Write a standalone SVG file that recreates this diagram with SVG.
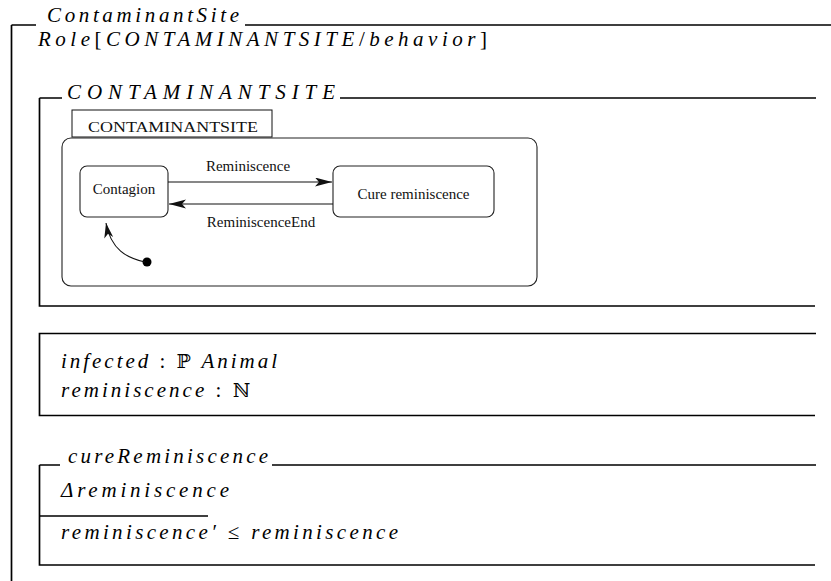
<svg xmlns="http://www.w3.org/2000/svg" width="831" height="581" viewBox="0 0 831 581">
  <defs>
    <style>
      .rule { fill: none; stroke: #000; stroke-width: 1.7; }
      .math { font-family: "Liberation Serif", "Times New Roman", serif; font-size: 21px; font-style: italic; fill: #000; }
      .up { font-style: normal; }
      .ds { font-family: "DejaVu Serif", serif; font-style: normal; font-size: 19px; }
      .label { font-family: "Liberation Serif", "Times New Roman", serif; font-size: 15px; fill: #111; }
      .state { fill: #fff; stroke: #222; stroke-width: 1.1; }
      .edge { fill: none; stroke: #111; stroke-width: 1.1; }
    </style>
    <marker id="head" markerUnits="userSpaceOnUse" markerWidth="18" markerHeight="10" refX="17" refY="4.5" orient="auto">
      <path d="M0,0 L17,4.5 L0,9 L4,4.5 z" fill="#111"/>
    </marker>
    <marker id="head-init" markerUnits="userSpaceOnUse" markerWidth="16" markerHeight="10" refX="15" refY="4.5" orient="auto">
      <path d="M0,0 L15,4.5 L0,9 L4,4.5 z" fill="#111"/>
    </marker>
  </defs>

  <!-- Outer schema: ContaminantSite -->
  <g id="schema-contaminantsite">
    <path class="rule" d="M11.5,25 H36 M245,25 H831 M11.5,25 V581"/>
    <text class="math" x="47" y="22" textLength="192" lengthAdjust="spacing">ContaminantSite</text>
    <text class="math" x="38" y="46" textLength="449" lengthAdjust="spacing">Role<tspan class="up">[</tspan>CONTAMINANTSITE<tspan class="up">/</tspan>behavior<tspan class="up">]</tspan></text>
  </g>

  <!-- Nested schema holding the statechart -->
  <g id="schema-behavior">
    <path class="rule" d="M39.5,98 H62 M340,98 H816 M39.5,98 V306 H815"/>
    <text class="math" x="67" y="99" textLength="268" lengthAdjust="spacing">CONTAMINANTSITE</text>
  </g>

  <!-- Statechart -->
  <g id="statechart">
    <rect x="72" y="110" width="200" height="27" fill="#fff" stroke="#111" stroke-width="1"/>
    <text class="label" x="88" y="132" font-size="17" textLength="170" lengthAdjust="spacingAndGlyphs">CONTAMINANTSITE</text>
    <rect x="62" y="138" width="475" height="148" rx="9" fill="none" stroke="#222" stroke-width="1.1"/>
  </g>

  <g id="state-contagion">
    <rect class="state" x="80" y="166" width="88" height="51" rx="7"/>
    <text class="label" x="124" y="194" text-anchor="middle">Contagion</text>
  </g>

  <g id="state-cure">
    <rect class="state" x="333" y="166" width="161" height="51" rx="7"/>
    <text class="label" x="413.5" y="199" text-anchor="middle">Cure reminiscence</text>
  </g>

  <g id="initial">
    <circle cx="147" cy="262" r="4.5" fill="#000"/>
  </g>

  <g id="connectors">
    <path class="edge" d="M168,182 H332" marker-end="url(#head)"/>
    <text class="label" x="248" y="171" text-anchor="middle">Reminiscence</text>
    <path class="edge" d="M333,204 H169" marker-end="url(#head)"/>
    <text class="label" x="261" y="227" text-anchor="middle">ReminiscenceEnd</text>
    <path class="edge" d="M145,262 C127,258 111,250 106,223" marker-end="url(#head-init)"/>
  </g>

  <!-- State schema -->
  <g id="schema-state">
    <path class="rule" d="M816,333.5 H39.5 V415.5 H815"/>
    <text class="math" x="61" y="368" textLength="216" lengthAdjust="spacing">infected <tspan class="up">:</tspan> <tspan class="ds">ℙ</tspan> Animal</text>
    <text class="math" x="61" y="397" textLength="189" lengthAdjust="spacing">reminiscence <tspan class="up">:</tspan> <tspan class="ds">ℕ</tspan></text>
  </g>

  <!-- Operation schema: cureReminiscence -->
  <g id="schema-cure">
    <path class="rule" d="M39.5,465 H60 M272,465 H816 M39.5,465 V565 H815 M39.5,516 H208"/>
    <text class="math" x="68" y="463" textLength="200" lengthAdjust="spacing">cureReminiscence</text>
    <text class="math" x="61" y="497" textLength="168" lengthAdjust="spacing">Δreminiscence</text>
    <text class="math" x="61" y="539" textLength="337" lengthAdjust="spacing">reminiscence′ <tspan class="up">≤</tspan> reminiscence</text>
  </g>
</svg>
